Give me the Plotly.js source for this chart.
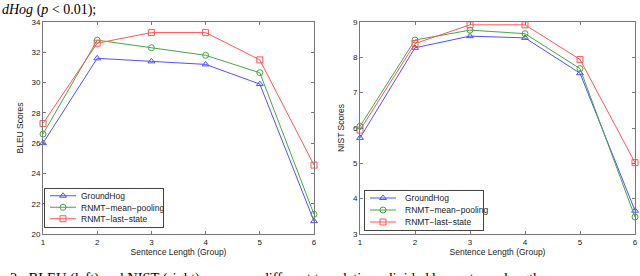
<!DOCTYPE html>
<html>
<head>
<meta charset="utf-8">
<script src="https://cdn.plot.ly/plotly-3.0.1.min.js"></script>
<style>html,body{margin:0;padding:0;background:#fff;}#chart{width:640px;height:276px;}</style>
</head>
<body>
<div id="chart"></div>
<script>
const groups = [1, 2, 3, 4, 5, 6];
const seriesNames = ["GroundHog", "RNMT\u2212mean\u2212pooling", "RNMT\u2212last\u2212state"];
const bleuGroundHog = [26.0, 31.6, 31.4, 31.2, 29.9, 20.85];
const bleuMeanPooling = [26.6, 32.8, 32.3, 31.8, 30.65, 21.3];
const bleuLastState = [27.3, 32.6, 33.3, 33.3, 31.5, 24.55];
const nistGroundHog = [5.72, 8.27, 8.6, 8.55, 7.55, 3.66];
const nistMeanPooling = [6.05, 8.49, 8.77, 8.67, 7.68, 3.48];
const nistLastState = [5.94, 8.39, 8.92, 8.92, 7.94, 5.02];
const xTitle = "Sentence Length (Group)";
const leftYTitle = "BLEU Scores";
const rightYTitle = "NIST Scores";
const topText = "<i>dHog</i> (<i>p</i> &lt; 0.01);";
const captionText = "2:  BLEU (left) and NIST (right) scores on different translations divided by sentence lengths";

const colors = ["rgb(80,80,255)", "rgb(70,165,70)", "rgb(255,85,85)"];
const symbols = ["triangle-up-open", "circle-open", "square-open"];

function tr(y, i, xa, ya, leg) {
  return {
    x: groups, y: y, name: seriesNames[i], type: "scatter", mode: "lines+markers",
    xaxis: xa, yaxis: ya, legend: leg, cliponaxis: false,
    line: {color: colors[i], width: 1},
    marker: {symbol: symbols[i], size: 6, color: colors[i], line: {width: 1, color: colors[i]}}
  };
}

const data = [
  tr(bleuGroundHog, 0, "x", "y", "legend"),
  tr(bleuMeanPooling, 1, "x", "y", "legend"),
  tr(bleuLastState, 2, "x", "y", "legend"),
  tr(nistGroundHog, 0, "x2", "y2", "legend2"),
  tr(nistMeanPooling, 1, "x2", "y2", "legend2"),
  tr(nistLastState, 2, "x2", "y2", "legend2")
];

const sans = "Liberation Sans, Arial, sans-serif";
const tickFont = {family: sans, size: 8, color: "#222"};
const axBase = {
  showline: true, linecolor: "#777", linewidth: 1, mirror: "ticks",
  ticks: "inside", ticklen: 3, tickcolor: "#777", showgrid: false, zeroline: false,
  tickfont: tickFont, automargin: false
};
function xax(domain, anchor) {
  return Object.assign({}, axBase, {domain: domain, anchor: anchor, range: [1, 6], dtick: 1, tick0: 1,
    title: {text: xTitle, font: {family: sans, size: 8.5, color: "#222"}, standoff: 3}});
}
function yax(domain, anchor, range, dtick, title) {
  return Object.assign({}, axBase, {domain: domain, anchor: anchor, range: range, dtick: dtick,
    title: {text: title, font: {family: sans, size: 8.5, color: "#222"}, standoff: 6}});
}
const legBase = {
  bgcolor: "#fff", bordercolor: "#444", borderwidth: 1,
  font: {family: sans, size: 8.5, color: "#222"},
  xanchor: "left", yanchor: "top", tracegroupgap: 0, itemwidth: 30
};

const ML = 43, MR = 5, MT = 22, MB = 42;
const PW = 640 - ML - MR, PH = 276 - MT - MB;
const px = v => (v - ML) / PW;
const py = v => 1 - (v - MT) / PH;

const layout = {
  width: 640, height: 276,
  margin: {l: ML, r: MR, t: MT, b: MB, pad: 0},
  paper_bgcolor: "#fff", plot_bgcolor: "#fff",
  showlegend: true,
  xaxis: xax([0, px(314)], "y"),
  yaxis: yax([0, 1], "x", [20, 34], 2, leftYTitle),
  xaxis2: xax([px(360), 1], "y2"),
  yaxis2: yax([0, 1], "x2", [3, 9], 1, rightYTitle),
  legend: Object.assign({}, legBase, {x: px(44), y: py(188)}),
  legend2: Object.assign({}, legBase, {x: px(364), y: py(190)}),
  annotations: [
    {text: topText, xref: "paper", yref: "paper", x: px(0), y: py(0),
     xanchor: "left", yanchor: "top", showarrow: false,
     font: {family: "Liberation Serif, Times New Roman, serif", size: 14, color: "#000"}},
    {text: captionText, xref: "paper", yref: "paper", x: px(8), y: py(268),
     xanchor: "left", yanchor: "top", showarrow: false,
     font: {family: "Liberation Serif, Times New Roman, serif", size: 14.5, color: "#000"}}
  ]
};

function tweakLegend(cls, itemH, width) {
  const leg = document.querySelector("g." + cls);
  if (!leg) return;
  const items = leg.querySelectorAll("g.traces");
  items.forEach((g, i) => {
    const m = /translate\(([-\d.]+)[ ,]+([-\d.]+)\)/.exec(g.getAttribute("transform") || "");
    const x = m ? parseFloat(m[1]) : 0;
    g.setAttribute("transform", "translate(" + x + "," + (2 + itemH / 2 + i * itemH) + ")");
    g.querySelectorAll("path.js-line").forEach(p => p.setAttribute("d", "M5,0h26"));
    g.querySelectorAll("path.scatterpts").forEach(p => p.setAttribute("transform", "translate(18,0)"));
    g.querySelectorAll("text.legendtext").forEach(t => t.setAttribute("x", 36));
  });
  const bg = leg.querySelector("rect.bg");
  if (bg) {
    bg.setAttribute("height", items.length * itemH + 4);
    bg.setAttribute("width", width);
  }
}

Plotly.newPlot("chart", data, layout, {displayModeBar: false, staticPlot: true}).then(() => {
  tweakLegend("legend", 11.5, 119);
  tweakLegend("legend2", 12, 119);
});
</script>
</body>
</html>
